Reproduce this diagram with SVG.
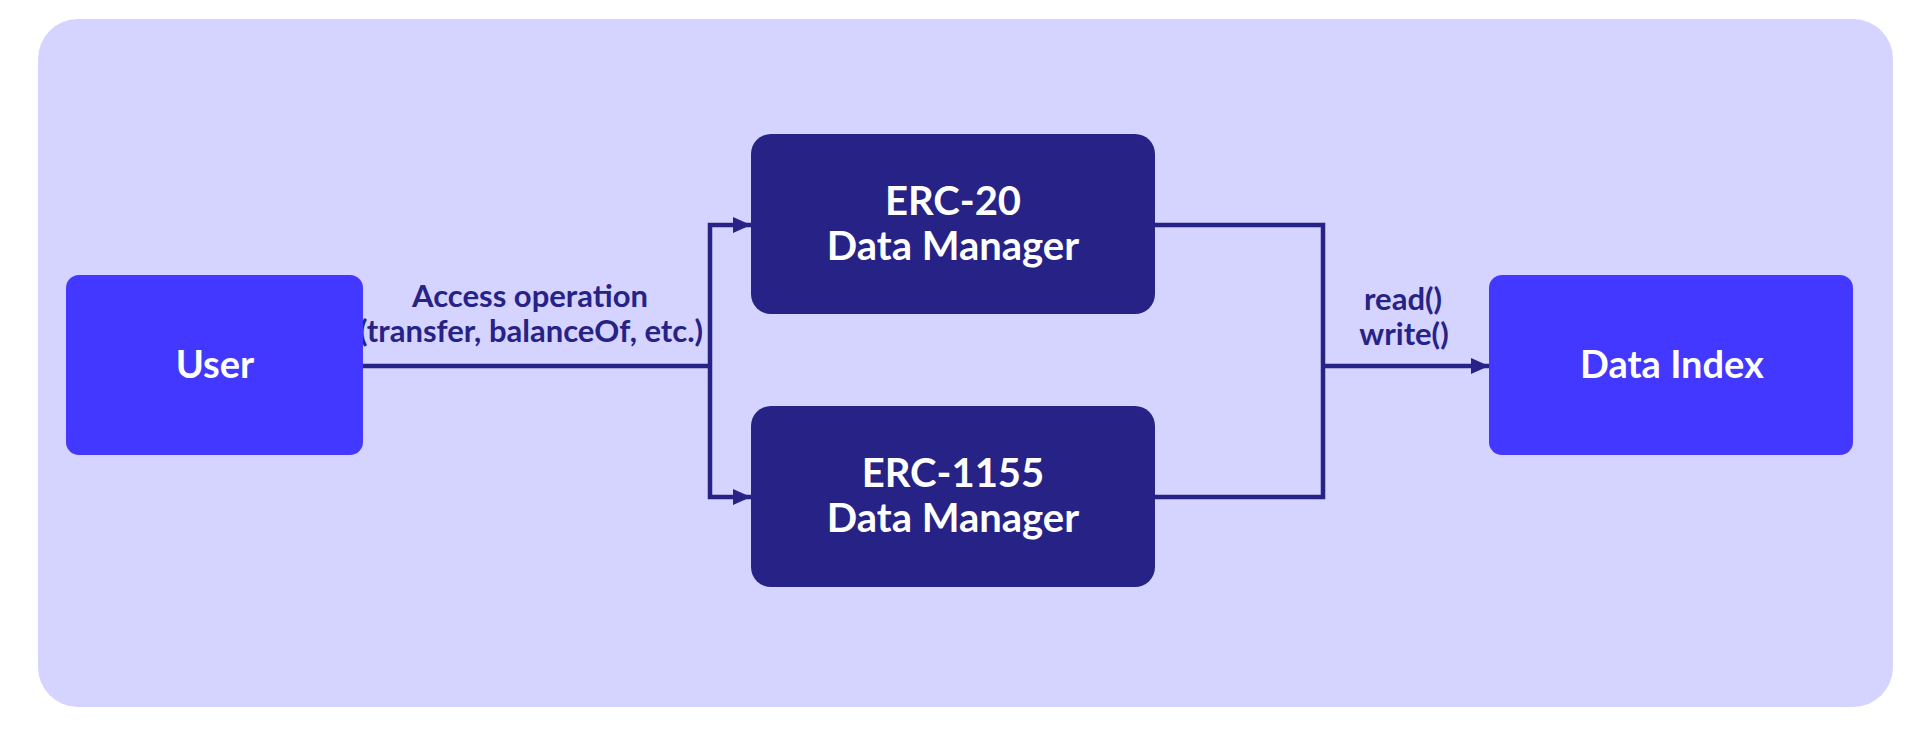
<svg xmlns="http://www.w3.org/2000/svg" width="1928" height="736" viewBox="0 0 1928 736">
  <defs>
    <style>
      .bg { fill: #D5D3FF; }
      .blue { fill: #4338FF; }
      .navy { fill: #272285; }
      .wire { fill: none; stroke: #272285; stroke-width: 4.5; stroke-linejoin: miter; }
      .node-text { font-family: "Lato", "Liberation Sans", sans-serif; font-weight: bold; fill: #FFFFFF; text-anchor: middle; }
      .label { font-family: "Lato", "Liberation Sans", sans-serif; font-weight: bold; fill: #272285; text-anchor: middle; font-size: 31px; }
    </style>
    <marker id="arrow" viewBox="0 0 18 16" refX="18" refY="8" markerWidth="18" markerHeight="16" markerUnits="userSpaceOnUse" orient="auto">
      <path d="M0,0 L18,8 L0,16 Z" fill="#272285"/>
    </marker>
  </defs>

  <rect class="bg" x="38" y="19" width="1855" height="688" rx="40" ry="40"/>

  <g id="connectors">
    <path class="wire" d="M363,366 H710"/>
    <path class="wire" d="M710,366 V225 H751" marker-end="url(#arrow)"/>
    <path class="wire" d="M710,366 V497 H751" marker-end="url(#arrow)"/>
    <path class="wire" d="M1155,225 H1323 V497 H1155"/>
    <path class="wire" d="M1323,366 H1489" marker-end="url(#arrow)"/>
    <text class="label" x="530" y="307">Access operation</text>
    <text class="label" x="531" y="342">(transfer, balanceOf, etc.)</text>
    <text class="label" x="1403" y="310">read()</text>
    <text class="label" x="1404" y="345">write()</text>
  </g>

  <g id="user">
    <rect class="blue" x="66" y="275" width="297" height="180" rx="13" ry="13"/>
    <text class="node-text" x="215" y="378" font-size="38">User</text>
  </g>

  <g id="erc20">
    <rect class="navy" x="751" y="134" width="404" height="180" rx="20" ry="20"/>
    <text class="node-text" x="953" y="215" font-size="40">ERC-20</text>
    <text class="node-text" x="953" y="260" font-size="40">Data Manager</text>
  </g>

  <g id="erc1155">
    <rect class="navy" x="751" y="406" width="404" height="181" rx="20" ry="20"/>
    <text class="node-text" x="953" y="487" font-size="40">ERC-1155</text>
    <text class="node-text" x="953" y="532" font-size="40">Data Manager</text>
  </g>

  <g id="data-index">
    <rect class="blue" x="1489" y="275" width="364" height="180" rx="13" ry="13"/>
    <text class="node-text" x="1672" y="378" font-size="38">Data Index</text>
  </g>
</svg>
